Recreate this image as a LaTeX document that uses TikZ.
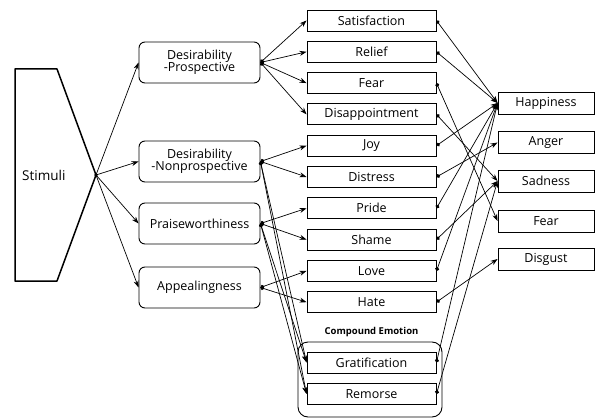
\documentclass[tikz,border=0pt]{standalone}
\usepackage{fontspec}
\setmainfont{Open Sans}
\usetikzlibrary{arrows.meta}
\begin{document}
\begin{tikzpicture}[x=1pt,y=-1pt,
  txt/.style={font=\fontsize{12.5}{12.5}\selectfont},
  emo/.style={draw, line width=0.9pt, minimum width=129pt, minimum height=21pt, inner sep=0pt, txt},
  cat/.style={draw, line width=0.9pt, rounded corners=6pt, minimum width=121pt, minimum height=41pt, inner sep=0pt, align=center, txt},
  basic/.style={draw, line width=0.9pt, minimum width=96pt, minimum height=22pt, inner sep=0pt, txt},
  arr/.style={-{Stealth[length=7pt,width=5pt]}, line width=0.7pt},
  darr/.style={{Circle[length=4pt]}-{Stealth[length=7pt,width=5pt]}, line width=0.7pt}
]
\useasboundingbox (0,0) rectangle (601,419);

% Stimuli
\draw[line width=1.5pt, line join=round] (15,69) -- (57,69) -- (96,175) -- (57,281) -- (15,281) -- cycle;
\coordinate (tip) at (96,175);
\node[font=\fontsize{13.5}{13.5}\selectfont, anchor=west, inner sep=0pt] (stim) at (22,175) {Stimuli};
\fill (tip) circle (1.8pt);

% categories
\node[cat] (dp) at (199.5,62.5) {Desirability\\-Prospective};
\node[cat] (dn) at (199.5,161.5) {Desirability\\-Nonprospective};
\node[cat] (pw) at (199.5,223.5) {Praiseworthiness};
\node[cat] (ap) at (199.5,287.5) {Appealingness};

% emotions
\node[emo] (sat) at (371.5,20.5) {Satisfaction};
\node[emo] (rel) at (371.5,51.8) {Relief};
\node[emo] (fea) at (371.5,83.1) {Fear};
\node[emo] (dis) at (371.5,114.4) {Disappointment};
\node[emo] (joy) at (371.5,145.7) {Joy};
\node[emo] (dst) at (371.5,177) {Distress};
\node[emo] (pri) at (371.5,208.3) {Pride};
\node[emo] (sha) at (371.5,239.6) {Shame};
\node[emo] (lov) at (371.5,270.9) {Love};
\node[emo] (hat) at (371.5,302.2) {Hate};

\node[font=\fontsize{9.5}{10}\bfseries\selectfont, inner sep=0pt] (ce) at (371.5,332) {Compound Emotion};
\node[draw, line width=0.9pt, rounded corners=10pt, minimum width=144pt, minimum height=75pt, inner sep=0pt] (grp) at (370,379.5) {};
\node[emo] (gra) at (371.5,362.5) {Gratification};
\node[emo] (rem) at (371.5,394) {Remorse};

% basic emotions
\node[basic] (hap) at (546,103) {Happiness};
\node[basic] (ang) at (546,142.5) {Anger};
\node[basic] (sad) at (546,181) {Sadness};
\node[basic] (fer) at (546,221) {Fear};
\node[basic] (dsg) at (546,259) {Disgust};

% stimuli arrows
\foreach \t in {dp,dn,pw,ap} \draw[arr] (tip) -- (\t.west);

% category -> emotions
\foreach \t in {sat,rel,fea,dis} \draw[darr] (dp.east) -- (\t.west);
\foreach \t in {joy,dst,gra,rem} \draw[darr] (dn.east) -- (\t.west);
\foreach \t in {pri,sha,gra,rem} \draw[darr] (pw.east) -- (\t.west);
\foreach \t in {lov,hat} \draw[darr] (ap.east) -- (\t.west);

% emotions -> basic
\draw[darr] (sat.east) -- (hap.west);
\draw[darr] (rel.east) -- (hap.west);
\draw[darr] (fea.east) -- (fer.west);
\draw[darr] (dis.east) -- (sad.west);
\draw[darr] (joy.east) -- (hap.west);
\draw[darr] (dst.east) -- (ang.west);
\draw[darr] (pri.east) -- (hap.west);
\draw[darr] (sha.east) -- (sad.west);
\draw[darr] (lov.east) -- (hap.west);
\draw[darr] (hat.east) -- (dsg.west);
\draw[darr] (gra.east) -- (hap.west);
\draw[darr] (rem.east) -- (sad.west);
\end{tikzpicture}
\end{document}
